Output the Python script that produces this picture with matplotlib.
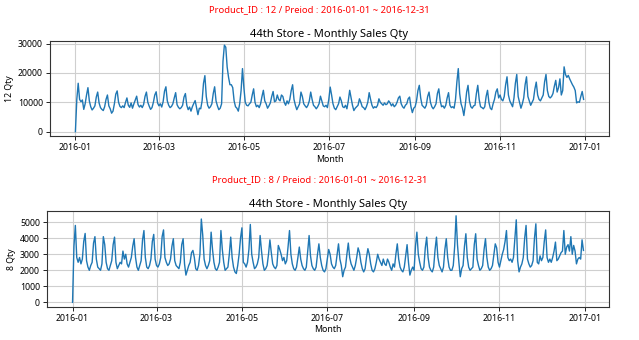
import numpy as np
import pandas as pd
import matplotlib
matplotlib.use("Agg")
import matplotlib.pyplot as plt
import matplotlib.dates as mdates
from matplotlib.ticker import MultipleLocator

plt.rcParams['font.family'] = ['Noto Sans', 'DejaVu Sans']

# daily sales, 2016-01-01 .. 2016-12-31, one row per week (Fri..Thu)
qty_12 = [
    0, 11000, 16500, 11000, 10200, 10800, 7600,
    9500, 12500, 15000, 10500, 8500, 7400, 8000,
    8800, 11800, 13500, 9800, 8200, 7600, 7200,
    8500, 11000, 12500, 8800, 7800, 6300, 7000,
    9500, 12800, 13900, 10000, 8600, 8200, 8800,
    8200, 10000, 11500, 9000, 8300, 9800, 8000,
    9500, 10800, 12100, 9200, 8400, 9000, 8200,
    9300, 12000, 13500, 10000, 8700, 7600, 8200,
    10000, 12500, 13600, 9800, 8800, 9500, 8400,
    10200, 13800, 15300, 10500, 9000, 8200, 8600,
    9500, 11500, 13300, 9200, 8300, 7800, 8200,
    9000, 11800, 13000, 9000, 7500, 8400, 7000,
    8500, 9600, 10600, 8200, 5800, 8000, 7800,
    10500, 16500, 19100, 12000, 9000, 8000, 8500,
    9500, 13000, 15300, 10500, 8800, 7500, 8000,
    9500, 24000, 29500, 28800, 22000, 18500, 16000,
    16000, 15000, 10500, 8500, 8000, 7000, 9500,
    14000, 21500, 15000, 10000, 9000, 8800, 9500,
    10000, 12500, 14600, 10000, 8500, 9000, 8200,
    9500, 12000, 14100, 10500, 9500, 8000, 8800,
    9800, 12000, 13700, 10200, 10500, 12500, 11000,
    10500, 12500, 12000, 10000, 9000, 10500, 9500,
    11000, 14000, 16000, 11000, 9000, 7500, 8500,
    9500, 13500, 12000, 9500, 8800, 8200, 9000,
    10500, 13500, 11000, 9000, 8500, 7800, 8500,
    9500, 12100, 10500, 8800, 8500, 9000, 8200,
    11000, 15200, 12500, 9500, 8000, 7500, 8500,
    9500, 11800, 10500, 8500, 8200, 9000, 7800,
    10500, 14100, 11500, 9000, 7200, 8000, 8500,
    9000, 11200, 10000, 8500, 8200, 7500, 8500,
    10000, 13300, 11000, 9000, 8000, 8500, 8200,
    9000, 11200, 10000, 9500, 9000, 9800, 9200,
    9500, 10500, 9800, 8800, 9500, 8500, 9000,
    10000, 11500, 12100, 9500, 8500, 8000, 9000,
    9500, 11200, 11800, 8500, 6500, 8000, 8500,
    10500, 14000, 15800, 11500, 9000, 8500, 8000,
    9000, 12000, 13500, 10000, 8500, 7800, 8500,
    9500, 13000, 14600, 10500, 8500, 8800, 8000,
    9000, 11500, 13300, 9000, 8200, 8500, 8000,
    11000, 17000, 21500, 13000, 9500, 8000, 5500,
    9000, 13500, 15800, 10500, 8500, 8000, 8800,
    9000, 13000, 15800, 11000, 8500, 8200, 7800,
    8500, 12000, 14100, 10000, 8000, 7500, 9500,
    11000, 13500, 14600, 11500, 12500, 11000, 10500,
    12000, 16000, 18700, 12500, 10500, 9500, 8500,
    11500, 16500, 19500, 12000, 10000, 8000, 9500,
    11500, 16000, 18700, 12000, 10500, 9000, 10000,
    11000, 14500, 16900, 12500, 11000, 10500, 11500,
    12500, 17000, 19500, 14000, 12000, 11500, 12000,
    13000, 15500, 17500, 13500, 15000, 18000, 12500,
    14000, 22100, 19500, 18500, 19200, 18000, 17000,
    16000, 15200, 14000, 9800, 10200, 10000, 12000,
    13700, 11000,
]

qty_8 = [
    0, 3500, 4800, 2800, 2500, 2800, 2400,
    2700, 3800, 4300, 2600, 2200, 2000, 2300,
    2500, 3700, 4100, 2700, 2200, 2100, 2000,
    2400, 4100, 3600, 2500, 2100, 2000, 2300,
    2600, 3600, 4070, 2500, 2100, 2300, 2500,
    2400, 3200, 2700, 3000, 2400, 2200, 2500,
    2800, 3500, 3970, 2800, 2200, 2000, 2300,
    2600, 3900, 4480, 2800, 2200, 2100, 2300,
    2700, 3800, 4240, 2700, 2300, 2200, 2400,
    2800, 4100, 4520, 2800, 2500, 2300, 2400,
    2700, 3500, 3970, 2600, 2300, 2200, 2100,
    2500, 3600, 3970, 2400, 1700, 2000, 2300,
    2500, 3100, 3240, 2800, 2100, 2000, 2300,
    3000, 5200, 4200, 2700, 2300, 2100, 2300,
    2600, 4380, 3300, 2500, 2100, 2000, 2200,
    2500, 4480, 3300, 2500, 2000, 2100, 2200,
    3000, 4070, 2800, 2200, 1900, 1800, 2300,
    3000, 4000, 4650, 2500, 2400, 2200, 2500,
    3300, 4860, 3000, 2500, 2100, 2200, 2400,
    2800, 4170, 3200, 2400, 2000, 2100, 2300,
    3000, 3900, 3100, 2400, 2200, 2100, 2300,
    3550, 3300, 3000, 2600, 2800, 2400, 2600,
    3500, 4480, 3000, 2400, 2100, 2000, 2200,
    2800, 3450, 2700, 2300, 2100, 2000, 2200,
    3200, 4170, 2900, 2300, 2100, 2000, 2200,
    3000, 3650, 2800, 2300, 2000, 1900, 2100,
    2700, 3300, 3000, 2400, 2200, 2100, 2300,
    3000, 3650, 2700, 2300, 1600, 2000, 2200,
    3000, 3700, 2800, 2400, 2200, 2000, 2300,
    2800, 3400, 3100, 2500, 2100, 1900, 2100,
    2800, 3350, 3000, 2400, 2000, 1900, 2100,
    2500, 3000, 2700, 2500, 2300, 2700, 2400,
    2300, 2700, 2500, 2200, 2000, 2400, 2200,
    3000, 3650, 2700, 2200, 2000, 1900, 2200,
    2900, 3600, 2500, 1700, 2000, 2200, 2000,
    3500, 4380, 3000, 2500, 2100, 2000, 2200,
    3400, 4070, 2800, 2200, 2000, 1900, 2200,
    3300, 4070, 2800, 2300, 2100, 1900, 2200,
    3300, 3970, 2800, 2200, 2000, 2000, 2300,
    3500, 5400, 3600, 2500, 1600, 2100, 2300,
    3500, 4280, 2800, 2200, 2000, 2100, 2200,
    3600, 4280, 2700, 2300, 2000, 2100, 2300,
    3300, 3970, 2800, 2200, 2000, 2100, 2300,
    3000, 3650, 3400, 2500, 2200, 2600, 3000,
    3300, 3800, 4480, 2800, 2600, 2700, 2500,
    2800, 4000, 5150, 2600, 1900, 2200, 2400,
    2800, 4000, 4800, 2700, 2400, 2200, 2300,
    2600, 4000, 4900, 2500, 2400, 2900, 2600,
    2800, 3800, 4520, 2800, 2500, 2700, 2500,
    2800, 3200, 3760, 2600, 2700, 2900, 3100,
    3200, 4480, 3000, 3450, 3600, 3200, 4100,
    3000, 3550, 3200, 2400, 2700, 2800, 2700,
    3900, 3240,
]

days = pd.date_range('2016-01-01', '2016-12-31', freq='D')

fig = plt.figure(figsize=(6.39, 3.40), dpi=100)

panels = [
    ('12', qty_12, [50/639, 0.600, 559/639, 0.280], 0.972, 10000),
    ('8', qty_8, [47/639, 0.098, 562/639, 0.280], 0.472, 1000),
]

for pid, qty, rect, ty, ystep in panels:
    fig.text(0.50, ty, 'Product_ID : %s / Preiod : 2016-01-01 ~ 2016-12-31' % pid,
             color='red', fontsize=6.8, ha='center', va='center')
    ax = fig.add_axes(rect)
    ax.plot(days, qty, color='#1f77b4', linewidth=1.0)
    ax.set_title('44th Store - Monthly Sales Qty', fontsize=8, pad=3)
    ax.set_xlabel('Month', fontsize=6.3, labelpad=2)
    ax.set_ylabel('%s Qty' % pid, fontsize=6.3, labelpad=3)
    ax.xaxis.set_major_locator(mdates.MonthLocator(bymonth=[1, 3, 5, 7, 9, 11]))
    ax.xaxis.set_major_formatter(mdates.DateFormatter('%Y-%m'))
    ax.yaxis.set_major_locator(MultipleLocator(ystep))
    ax.tick_params(labelsize=6.3, length=3, width=0.6, pad=2)
    ax.grid(True, color='#cfcfcf', linewidth=0.8)
    for s in ax.spines.values():
        s.set_color('#333333')
        s.set_linewidth(0.8)

fig.savefig('out.png', dpi=100)
